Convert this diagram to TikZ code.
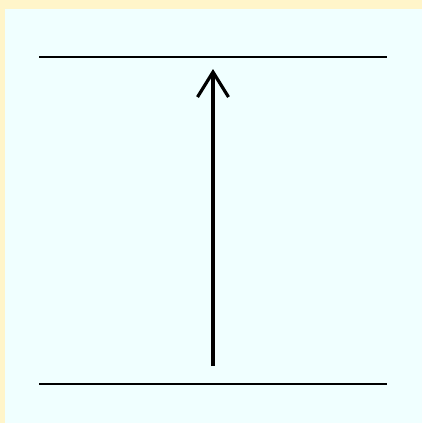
\documentclass[tikz,border=0pt]{standalone}
\usetikzlibrary{arrows.meta}
\definecolor{frame}{HTML}{FFF5CA}
\definecolor{paper}{HTML}{F0FFFF}
\definecolor{ink}{HTML}{000000}

\begin{document}
\begin{tikzpicture}[x=1pt, y=-1pt, line cap=butt,
  level/.style={draw=ink, line width=2pt},
  lift/.style={draw=ink, line width=3.2pt,
               -{Straight Barb[length=25pt, width=31pt, line width=3.2pt]}}]

% ==================================================== background
\fill[frame] (0,0) rectangle (422,423);
\fill[paper] (5,9) rectangle (422,423);
\useasboundingbox (0,0) rectangle (422,423);

% the two levels
\coordinate (top-l) at (39,57);
\coordinate (top-r) at (387,57);
\coordinate (bot-l) at (39,384);
\coordinate (bot-r) at (387,384);
\draw[level] (top-l) -- (top-r);
\draw[level] (bot-l) -- (bot-r);

% the transition
\coordinate (base) at (213,366);
\coordinate (tip) at (213,69);
\draw[lift] (base) -- (tip);

\end{tikzpicture}
\end{document}
